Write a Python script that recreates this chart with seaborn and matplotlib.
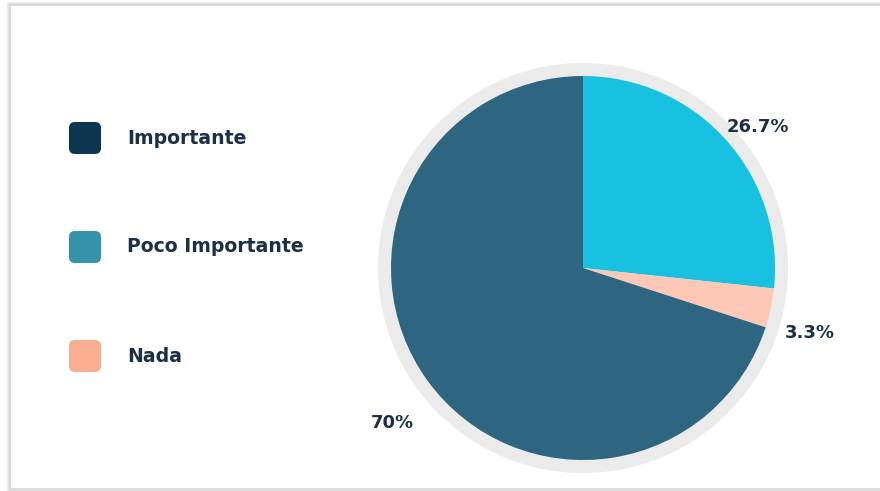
import matplotlib
matplotlib.use("Agg")
import matplotlib.pyplot as plt
from matplotlib.patches import Circle, FancyBboxPatch, Rectangle
import numpy as np
import seaborn as sns

# Survey answers: importance rating
categories = ["Poco Importante", "Nada", "Importante"]
values = [26.7, 3.3, 70]
slice_colors = ["#19C1E0", "#FDC8B6", "#2E6580"]

legend_labels = ["Importante", "Poco Importante", "Nada"]
legend_colors = ["#0C3552", "#3592A8", "#F9AD91"]

sns.set_theme(style="white")
plt.rcParams["font.family"] = ["DejaVu Sans"]

W, H = 880, 491
fig = plt.figure(figsize=(W / 100, H / 100), dpi=100)
fig.patch.set_facecolor("white")

# card frame with soft shadow
frame = fig.add_axes([0, 0, 1, 1])
frame.set_xlim(0, W)
frame.set_ylim(H, 0)
frame.axis("off")
for off, a in [(3, 0.05), (2, 0.08), (1, 0.12)]:
    frame.add_patch(Rectangle((10 - off, 5 - off), W + 20, 484 + 2 * off,
                              fill=False, ec="#000000", lw=1, alpha=a))
frame.add_patch(Rectangle((10, 5), W + 20, 484, fill=False, ec="#D6D6D6", lw=1.2))

# legend column
text_color = "#1B2F45"
for i, (lab, col) in enumerate(zip(legend_labels, legend_colors)):
    yc = 138 + i * 109
    frame.add_patch(FancyBboxPatch((69, yc - 16), 32, 32,
                                   boxstyle="round,pad=0,rounding_size=6",
                                   fc=col, ec="none"))
    frame.text(127, yc, lab, fontsize=13.6, fontweight="bold",
               color=text_color, ha="left", va="center")

# pie area
ax = fig.add_axes([0, 0, 1, 1])
ax.set_xlim(0, W)
ax.set_ylim(0, H)
ax.set_aspect("equal")
ax.axis("off")
ax.patch.set_alpha(0)

cx, cy, r = 583, H - 268, 192
ax.add_patch(Circle((cx, cy), r + 13, fc="#EBEBEB", ec="none", zorder=0))

wedges, texts = ax.pie(values, colors=slice_colors, startangle=90,
                       counterclock=False, center=(cx, cy), radius=r,
                       labels=[f"{v:g}%" for v in values],
                       labeldistance=1.2, frame=True,
                       wedgeprops=dict(linewidth=0))
ax.set_xlim(0, W)
ax.set_ylim(0, H)
ax.axis("off")

label_dist = [1.17, 1.23, 1.28]
label_shift = [-3, -4, 3]
start = 90.0
for t, v, d, s in zip(texts, values, label_dist, label_shift):
    mid = np.deg2rad(start - v * 3.6 / 2 + s)
    start -= v * 3.6
    t.set_position((cx + d * r * np.cos(mid), cy + d * r * np.sin(mid)))
    t.set_ha("center")
    t.set_va("center")
    t.set_fontsize(13)
    t.set_fontweight("bold")
    t.set_color(text_color)

fig.savefig("out.png", dpi=100, facecolor="white")
